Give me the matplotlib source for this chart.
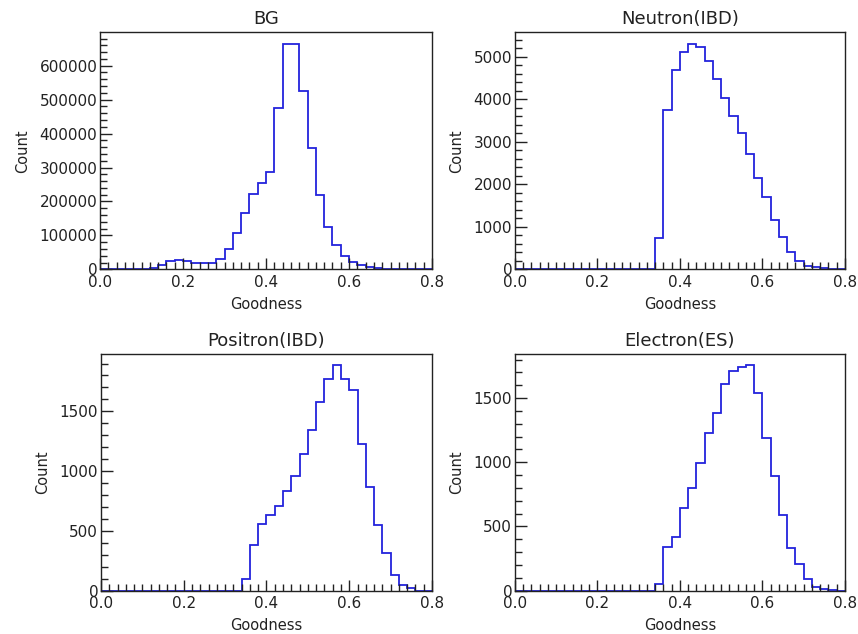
import numpy as np
import matplotlib
matplotlib.use("Agg")
import matplotlib.pyplot as plt
from matplotlib.ticker import MultipleLocator, FormatStrFormatter

plt.rcParams["font.family"] = ["DejaVu Sans"]

# bin edges: 40 bins of 0.02 from 0.0 to 0.8
edges = np.linspace(0.0, 0.8, 41)

bg_counts = [0, 0, 0, 0, 0, 0,
             5000, 12000, 24000, 27000, 24000, 20000, 18000, 20000, 30000,
             60000, 106000, 167000, 222000, 253000, 287000, 476000, 665000,
             665000, 525000, 356000, 218000, 126000, 71000, 39000, 23000,
             13000, 7000, 3000, 1000,
             0, 0, 0, 0, 0]

neutron_counts = [0] * 17 + [730, 3740, 4680, 5120, 5310, 5240, 4890, 4480,
                             4020, 3600, 3200, 2720, 2160, 1690, 1170, 760,
                             410, 200, 80, 45, 30, 10, 0]

positron_counts = [0] * 17 + [94, 378, 561, 631, 708, 831, 958, 1142, 1344,
                              1578, 1772, 1885, 1772, 1675, 1228, 869, 553,
                              319, 131, 47, 19, 0, 0]

electron_counts = [0] * 17 + [52, 338, 420, 647, 802, 997, 1224, 1384, 1608,
                              1709, 1745, 1755, 1536, 1186, 894, 590, 330,
                              206, 88, 26, 13, 5, 0]

titles = ["BG", "Neutron(IBD)", "Positron(IBD)", "Electron(ES)"]
all_counts = [bg_counts, neutron_counts, positron_counts, electron_counts]
y_major = [100000, 1000, 500, 500]

# axes boxes in figure fractions (left, bottom, width, height)
boxes = [
    (0.1166, 0.5752, 0.3870, 0.3738),
    (0.6002, 0.5752, 0.3846, 0.3738),
    (0.1177, 0.0683, 0.3858, 0.3733),
    (0.6002, 0.0683, 0.3846, 0.3733),
]

fig = plt.figure(figsize=(8.58, 6.34), dpi=100)

for box, title, counts, ymaj in zip(boxes, titles, all_counts, y_major):
    ax = fig.add_axes(box)
    ax.stairs(counts, edges, color="#2323dc", linewidth=1.3)
    ax.set_xlim(0.0, 0.8)
    ax.set_ylim(0, max(counts) * 1.05)

    ax.xaxis.set_major_locator(MultipleLocator(0.2))
    ax.xaxis.set_minor_locator(MultipleLocator(0.02))
    ax.xaxis.set_major_formatter(FormatStrFormatter("%.1f"))
    ax.yaxis.set_major_locator(MultipleLocator(ymaj))
    ax.yaxis.set_minor_locator(MultipleLocator(ymaj / 5))

    ax.tick_params(which="both", direction="in", top=False, right=False,
                   labelsize=11, colors="#222222", pad=2)
    ax.tick_params(axis="y", which="major", length=8.5, width=1.0)
    ax.tick_params(axis="y", which="minor", length=5, width=1.0)
    ax.tick_params(axis="x", which="major", length=8, width=1.0, pad=4)
    ax.tick_params(axis="x", which="minor", length=4.8, width=1.0)

    for sp in ax.spines.values():
        sp.set_linewidth(1.0)
        sp.set_color("#222222")

    ax.set_title(title, fontsize=13, color="#222222", pad=6)
    ax.set_xlabel("Goodness", fontsize=10.5, color="#222222", labelpad=5)
    ax.set_ylabel("Count", fontsize=10.5, color="#222222", labelpad=7)

fig.savefig("out.png", dpi=100)
